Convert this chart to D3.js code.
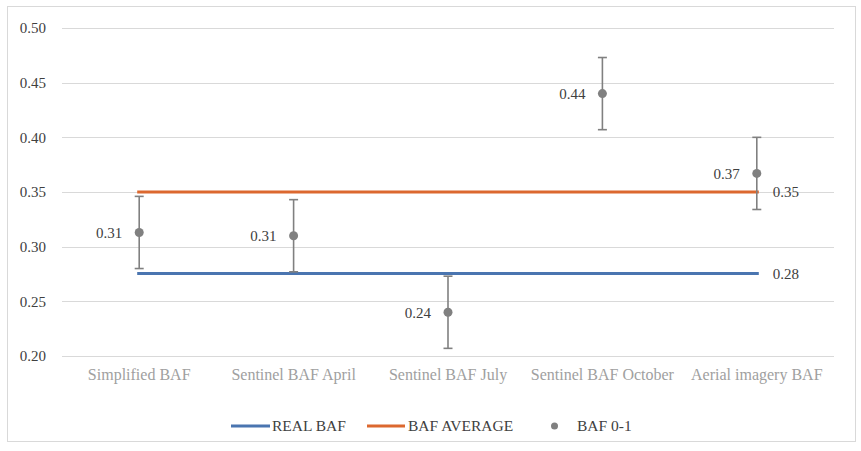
<!DOCTYPE html>
<html lang="en">
<head>
<meta charset="UTF-8">
<title>BAF comparison</title>
<script src="https://cdn.jsdelivr.net/npm/d3@7"></script>
<style>
    body { margin: 0; background: #fff; }
    svg text { font-family: "Liberation Serif", "DejaVu Serif", serif; }
</style>
</head>
<body>
<div id="chart"></div>
<script>
// values
const categories = ["Simplified BAF", "Sentinel BAF April", "Sentinel BAF July", "Sentinel BAF October", "Aerial imagery BAF"];
const bafValues = [0.313, 0.310, 0.240, 0.440, 0.367];
const bafErrors = [0.033, 0.033, 0.033, 0.033, 0.033];
const realBaf = 0.2755;
const bafAverage = 0.35;
const yTicks = [0.20, 0.25, 0.30, 0.35, 0.40, 0.45, 0.50];
const legendItems = ["REAL BAF", "BAF AVERAGE", "BAF 0-1"];

const width = 861, height = 451;
const margin = {top: 28, right: 27, bottom: 95, left: 62};

const BLUE = "#4a75b0";
const ORANGE = "#dc682f";
const GREY = "#808080";

const svg = d3.select("#chart").append("svg")
    .attr("width", width)
    .attr("height", height);

// outer frame
svg.append("rect")
    .attr("x", 7.5).attr("y", 6.5)
    .attr("width", 848).attr("height", 435)
    .attr("fill", "#fff")
    .attr("stroke", "#d9d9d9");

const x = d3.scaleBand()
    .domain(categories)
    .range([margin.left, width - margin.right]);

const y = d3.scaleLinear()
    .domain([0.2, 0.5])
    .range([height - margin.bottom, margin.top]);

const fmt = d3.format(".2f");

// gridlines
svg.append("g")
    .selectAll("line")
    .data(yTicks)
    .join("line")
    .attr("x1", margin.left)
    .attr("x2", width - margin.right)
    .attr("y1", d => Math.round(y(d)) + 0.5)
    .attr("y2", d => Math.round(y(d)) + 0.5)
    .attr("stroke", "#d9d9d9");

// y tick labels
const yAxis = svg.append("g")
    .attr("transform", `translate(${margin.left - 16},0)`)
    .call(d3.axisLeft(y).tickValues(yTicks).tickFormat(fmt).tickSize(0).tickPadding(0));
yAxis.select(".domain").remove();
yAxis.selectAll("text")
    .attr("fill", "#404040")
    .style("font-size", "15px");

// category labels
const xAxis = svg.append("g")
    .attr("transform", `translate(0,${height - margin.bottom + 13})`)
    .call(d3.axisBottom(x).tickSize(0).tickPadding(0));
xAxis.select(".domain").remove();
xAxis.selectAll("text")
    .attr("fill", "#a0a0a0")
    .style("font-size", "16px");

const cx = d => x(d) + x.bandwidth() / 2;
const first = categories[0], last = categories[categories.length - 1];

// horizontal reference lines
const refs = [
    {value: realBaf, color: BLUE},
    {value: bafAverage, color: ORANGE}
];
refs.forEach(r => {
    svg.append("line")
        .attr("x1", cx(first) - 2)
        .attr("x2", cx(last) + 2)
        .attr("y1", y(r.value))
        .attr("y2", y(r.value))
        .attr("stroke", r.color)
        .attr("stroke-width", 3);
});

// error bars
const bars = svg.append("g")
    .attr("stroke", GREY)
    .attr("stroke-width", 1.6);
categories.forEach((c, i) => {
    const lo = y(bafValues[i] - bafErrors[i]);
    const hi = y(bafValues[i] + bafErrors[i]);
    bars.append("line").attr("x1", cx(c)).attr("x2", cx(c)).attr("y1", hi).attr("y2", lo);
    bars.append("line").attr("x1", cx(c) - 4.5).attr("x2", cx(c) + 4.5).attr("y1", hi).attr("y2", hi);
    bars.append("line").attr("x1", cx(c) - 4.5).attr("x2", cx(c) + 4.5).attr("y1", lo).attr("y2", lo);
});

// points
svg.append("g")
    .selectAll("circle")
    .data(categories)
    .join("circle")
    .attr("cx", d => cx(d))
    .attr("cy", (d, i) => y(bafValues[i]))
    .attr("r", 4.5)
    .attr("fill", GREY);

// point labels
svg.append("g")
    .selectAll("text")
    .data(categories)
    .join("text")
    .attr("x", d => cx(d) - 17)
    .attr("y", (d, i) => y(bafValues[i]))
    .attr("dy", "0.35em")
    .attr("text-anchor", "end")
    .attr("fill", "#404040")
    .style("font-size", "15px")
    .text((d, i) => fmt(bafValues[i]));

// reference line labels
refs.forEach(r => {
    svg.append("text")
        .attr("x", cx(last) + 16)
        .attr("y", y(r.value))
        .attr("dy", "0.35em")
        .attr("fill", "#404040")
        .style("font-size", "15px")
        .text(fmt(r.value));
});

// legend
const legendY = 426;
const legend = svg.append("g").style("font-size", "15.5px").attr("fill", "#404040");
legend.append("line").attr("x1", 231).attr("x2", 270).attr("y1", legendY).attr("y2", legendY)
    .attr("stroke", BLUE).attr("stroke-width", 3);
legend.append("text").attr("x", 272).attr("y", legendY).attr("dy", "0.35em").text(legendItems[0]);
legend.append("line").attr("x1", 367).attr("x2", 405).attr("y1", legendY).attr("y2", legendY)
    .attr("stroke", ORANGE).attr("stroke-width", 3);
legend.append("text").attr("x", 408).attr("y", legendY).attr("dy", "0.35em").text(legendItems[1]);
legend.append("circle").attr("cx", 554.5).attr("cy", legendY).attr("r", 3.5).attr("fill", GREY);
legend.append("text").attr("x", 577).attr("y", legendY).attr("dy", "0.35em").text(legendItems[2]);
</script>
</body>
</html>
